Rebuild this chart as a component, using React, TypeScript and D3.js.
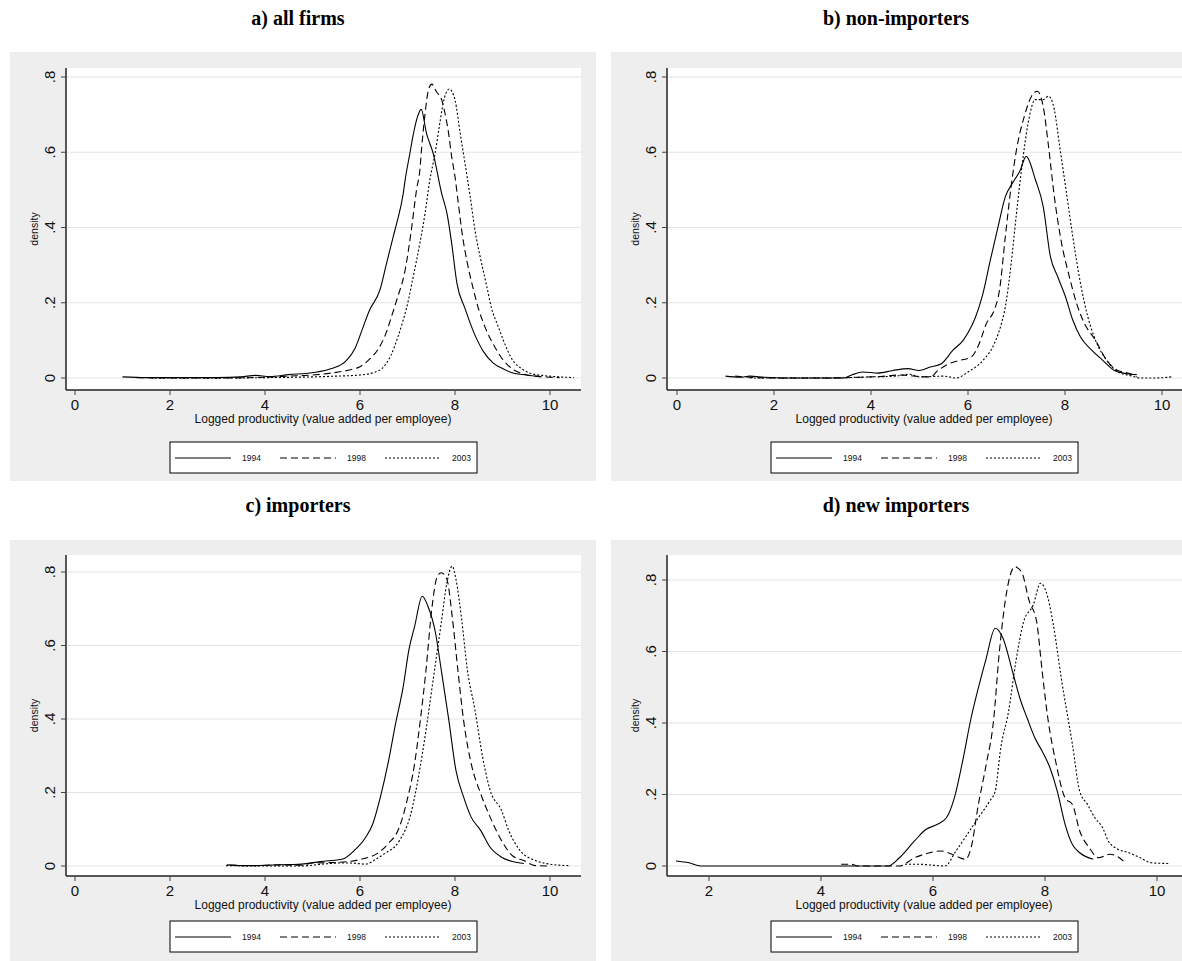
import React from 'react';
import * as d3 from 'd3';

type Pt = [number, number];

// a) all firms
const allFirms1994: Pt[] = [[1.0,0.003],[1.5,0.001],[2.0,0.001],[2.5,0.001],[3.0,0.001],[3.5,0.003],[3.8,0.007],[4.1,0.004],[4.5,0.009],[5.0,0.014],[5.4,0.025],[5.7,0.045],[5.9,0.08],[6.05,0.13],[6.2,0.18],[6.42,0.234],[6.55,0.3],[6.7,0.376],[6.77,0.41],[6.91,0.49],[6.95,0.526],[7.05,0.597],[7.12,0.646],[7.2,0.69],[7.29,0.714],[7.4,0.65],[7.54,0.597],[7.72,0.49],[7.83,0.438],[7.93,0.358],[8.04,0.252],[8.21,0.185],[8.4,0.12],[8.6,0.07],[8.8,0.04],[9.0,0.025],[9.2,0.014],[9.5,0.008],[9.8,0.003]];
const allFirms1998: Pt[] = [[1.3,0.001],[2.0,0.0],[3.0,0.0],[4.0,0.002],[4.5,0.005],[5.0,0.008],[5.5,0.015],[5.8,0.022],[6.0,0.03],[6.2,0.05],[6.4,0.08],[6.55,0.12],[6.68,0.17],[6.78,0.21],[6.95,0.287],[7.09,0.402],[7.19,0.5],[7.26,0.553],[7.3,0.615],[7.37,0.703],[7.44,0.765],[7.51,0.781],[7.61,0.761],[7.72,0.739],[7.79,0.703],[7.86,0.655],[7.93,0.588],[8.0,0.535],[8.07,0.464],[8.16,0.376],[8.26,0.305],[8.39,0.234],[8.49,0.186],[8.65,0.13],[8.85,0.08],[9.0,0.05],[9.2,0.025],[9.4,0.012],[9.7,0.005],[10.0,0.002],[10.2,0.001]];
const allFirms2003: Pt[] = [[1.6,0.0],[3.0,0.0],[4.0,0.001],[5.0,0.003],[5.5,0.005],[6.0,0.008],[6.3,0.015],[6.5,0.03],[6.65,0.06],[6.8,0.11],[6.9,0.15],[6.98,0.186],[7.12,0.269],[7.26,0.358],[7.37,0.438],[7.47,0.526],[7.58,0.597],[7.68,0.677],[7.75,0.73],[7.88,0.768],[8.0,0.739],[8.11,0.65],[8.21,0.571],[8.32,0.482],[8.42,0.393],[8.53,0.322],[8.67,0.243],[8.77,0.185],[8.9,0.14],[9.05,0.09],[9.2,0.05],[9.4,0.025],[9.6,0.012],[9.9,0.006],[10.2,0.003],[10.5,0.001]];

// b) non-importers
const nonImp1994: Pt[] = [[1.0,0.005],[1.3,0.002],[1.5,0.005],[1.8,0.002],[2.2,0.0],[3.0,0.0],[3.44,0.0],[3.6,0.008],[3.83,0.016],[4.14,0.013],[4.45,0.02],[4.76,0.025],[4.99,0.02],[5.22,0.029],[5.45,0.038],[5.69,0.074],[5.9,0.1],[6.0,0.12],[6.15,0.16],[6.3,0.22],[6.46,0.313],[6.62,0.402],[6.77,0.482],[6.92,0.518],[7.08,0.553],[7.2,0.589],[7.39,0.527],[7.55,0.456],[7.7,0.322],[7.85,0.269],[8.01,0.216],[8.16,0.154],[8.32,0.109],[8.55,0.074],[8.78,0.047],[9.02,0.02],[9.25,0.012],[9.48,0.009]];
const nonImp1998: Pt[] = [[1.2,0.005],[1.5,0.002],[2.0,0.0],[3.0,0.0],[3.8,0.002],[4.2,0.004],[4.6,0.008],[5.0,0.004],[5.22,0.003],[5.38,0.02],[5.61,0.038],[5.84,0.047],[6.07,0.056],[6.23,0.091],[6.38,0.145],[6.54,0.18],[6.65,0.234],[6.77,0.376],[6.89,0.51],[7.0,0.607],[7.16,0.695],[7.31,0.749],[7.43,0.762],[7.55,0.722],[7.66,0.616],[7.78,0.482],[7.93,0.358],[8.09,0.269],[8.24,0.198],[8.4,0.145],[8.63,0.1],[8.86,0.047],[9.09,0.02],[9.33,0.012],[9.48,0.003]];
const nonImp2003: Pt[] = [[1.5,0.0],[3.0,0.0],[4.0,0.003],[4.5,0.005],[4.8,0.01],[5.0,0.003],[5.5,0.005],[5.76,0.0],[6.0,0.016],[6.31,0.047],[6.54,0.091],[6.69,0.145],[6.77,0.189],[6.89,0.305],[7.0,0.438],[7.12,0.571],[7.24,0.678],[7.39,0.74],[7.55,0.74],[7.66,0.749],[7.78,0.713],[7.89,0.616],[8.01,0.51],[8.16,0.376],[8.32,0.251],[8.47,0.163],[8.63,0.1],[8.86,0.047],[9.09,0.016],[9.33,0.007],[9.56,0.0],[9.87,0.0],[10.2,0.003]];

// c) importers
const imp1994: Pt[] = [[3.2,0.003],[3.5,0.001],[4.0,0.002],[4.5,0.004],[4.77,0.005],[5.16,0.012],[5.64,0.019],[5.88,0.042],[6.12,0.078],[6.27,0.115],[6.43,0.188],[6.59,0.279],[6.75,0.388],[6.91,0.488],[7.03,0.589],[7.15,0.652],[7.31,0.734],[7.43,0.707],[7.59,0.634],[7.71,0.534],[7.87,0.397],[8.02,0.26],[8.18,0.188],[8.34,0.133],[8.54,0.097],[8.74,0.051],[8.98,0.024],[9.21,0.012],[9.45,0.007]];
const imp1998: Pt[] = [[3.26,0.002],[3.8,0.001],[4.3,0.003],[4.77,0.002],[5.0,0.008],[5.56,0.01],[6.04,0.019],[6.35,0.033],[6.59,0.06],[6.83,0.106],[6.99,0.178],[7.15,0.279],[7.27,0.397],[7.39,0.534],[7.51,0.698],[7.63,0.789],[7.71,0.798],[7.83,0.78],[7.94,0.68],[8.06,0.534],[8.18,0.397],[8.34,0.279],[8.54,0.197],[8.74,0.133],[8.98,0.069],[9.21,0.028],[9.45,0.015],[9.69,0.001],[10.0,0.0]];
const imp2003: Pt[] = [[3.18,0.001],[4.0,0.0],[4.77,0.0],[5.2,0.005],[5.56,0.008],[5.8,0.008],[6.12,0.005],[6.35,0.02],[6.51,0.033],[6.83,0.069],[7.07,0.142],[7.23,0.242],[7.39,0.37],[7.55,0.516],[7.71,0.661],[7.83,0.771],[7.94,0.816],[8.02,0.78],[8.14,0.671],[8.26,0.534],[8.42,0.425],[8.58,0.297],[8.74,0.206],[8.98,0.151],[9.13,0.097],[9.37,0.042],[9.69,0.015],[10.0,0.005],[10.4,0.001]];

// d) new importers
const newImp1994: Pt[] = [[1.41,0.014],[1.64,0.009],[1.85,0.0],[3.0,0.0],[4.0,0.0],[5.2,0.0],[5.4,0.023],[5.67,0.07],[5.87,0.102],[6.07,0.116],[6.24,0.135],[6.38,0.19],[6.54,0.302],[6.68,0.414],[6.81,0.498],[6.95,0.581],[7.11,0.665],[7.25,0.637],[7.42,0.544],[7.55,0.47],[7.68,0.414],[7.82,0.358],[7.95,0.321],[8.09,0.274],[8.22,0.209],[8.36,0.116],[8.49,0.06],[8.62,0.037],[8.86,0.019]];
const newImp1998: Pt[] = [[4.36,0.005],[4.53,0.005],[4.66,0.0],[5.4,0.0],[5.67,0.023],[5.94,0.037],[6.14,0.042],[6.34,0.033],[6.48,0.023],[6.58,0.019],[6.68,0.051],[6.81,0.172],[6.95,0.284],[7.08,0.405],[7.18,0.591],[7.28,0.73],[7.38,0.814],[7.46,0.837],[7.58,0.823],[7.72,0.74],[7.85,0.684],[7.95,0.544],[8.05,0.414],[8.19,0.293],[8.36,0.19],[8.49,0.172],[8.62,0.098],[8.79,0.051],[8.96,0.023],[9.16,0.033],[9.36,0.019],[9.43,0.009]];
const newImp2003: Pt[] = [[5.5,0.005],[5.74,0.005],[5.94,0.003],[6.21,0.0],[6.41,0.042],[6.61,0.088],[6.81,0.135],[7.01,0.181],[7.11,0.209],[7.21,0.33],[7.35,0.433],[7.48,0.572],[7.62,0.684],[7.79,0.73],[7.92,0.791],[8.02,0.767],[8.15,0.674],[8.29,0.526],[8.49,0.34],[8.62,0.209],[8.76,0.172],[8.89,0.135],[9.03,0.107],[9.13,0.07],[9.3,0.047],[9.5,0.037],[9.7,0.023],[9.9,0.009],[10.2,0.007]];

const xTicksAll = [0, 2, 4, 6, 8, 10];
const xTicksNew = [2, 4, 6, 8, 10];
const yTicks = [0, 0.2, 0.4, 0.6, 0.8];
const years = ['1994', '1998', '2003'];
const dashes = ['none', '7,4', '2,2'];

const panels = [
  { title: 'a) all firms', series: [allFirms1994, allFirms1998, allFirms2003], xTicks: xTicksAll,
    gx: 10, gy: 52, gw: 586, gh: 429, px0: 66, px1: 581, py0: 68, py1: 390, legY: 442,
    xd: [0, 10], xr: [75, 550], yr: [378, 77], titleX: 298, titleY: 25 },
  { title: 'b) non-importers', series: [nonImp1994, nonImp1998, nonImp2003], xTicks: xTicksAll,
    gx: 611, gy: 52, gw: 571, gh: 429, px0: 667, px1: 1182, py0: 68, py1: 390, legY: 442,
    xd: [0, 10], xr: [677, 1162], yr: [378, 77], titleX: 896, titleY: 25 },
  { title: 'c) importers', series: [imp1994, imp1998, imp2003], xTicks: xTicksAll,
    gx: 10, gy: 540, gw: 586, gh: 421, px0: 66, px1: 581, py0: 555, py1: 876, legY: 921,
    xd: [0, 10], xr: [75, 550], yr: [866, 572], titleX: 298, titleY: 512 },
  { title: 'd) new importers', series: [newImp1994, newImp1998, newImp2003], xTicks: xTicksNew,
    gx: 611, gy: 540, gw: 571, gh: 421, px0: 667, px1: 1182, py0: 555, py1: 876, legY: 921,
    xd: [2, 10], xr: [709, 1157], yr: [866, 580], titleX: 896, titleY: 512 },
];

const sans = 'Liberation Sans, Arial, sans-serif';

function Panel({ p }: { p: typeof panels[number] }) {
  const x = d3.scaleLinear().domain(p.xd).range(p.xr);
  const y = d3.scaleLinear().domain([0, 0.8]).range(p.yr);
  const line = d3.line<Pt>().x(d => x(d[0])).y(d => y(d[1])).curve(d3.curveMonotoneX);
  const midX = (p.px0 + (p.px1 - 1)) / 2;
  const midY = (p.py0 + p.py1) / 2;
  const lx = p.gx + 160;
  const ly = p.legY;
  const fmt = (v: number) => (v === 0 ? '0' : d3.format('.1f')(v).replace(/^0/, ''));

  return (
    <g>
      <text x={p.titleX} y={p.titleY} textAnchor="middle" fontFamily="Liberation Serif, Times New Roman, serif"
        fontWeight="bold" fontSize={20}>{p.title}</text>
      <rect x={p.gx} y={p.gy} width={p.gw} height={p.gh} fill="#eeeeee" />
      <rect x={p.px0} y={p.py0} width={p.px1 - p.px0} height={p.py1 - p.py0} fill="#ffffff" />
      {yTicks.map(t => (
        <line key={'g' + t} x1={p.px0} x2={p.px1} y1={y(t)} y2={y(t)} stroke="#e4e4e4" strokeWidth={1.2} />
      ))}
      {p.series.map((s, i) => (
        <path key={i} d={line(s) || ''} fill="none" stroke="#000" strokeWidth={1.1}
          strokeDasharray={dashes[i]} />
      ))}
      <line x1={p.px0} x2={p.px0} y1={p.py0} y2={p.py1} stroke="#222" strokeWidth={1.5} />
      <line x1={p.px0} x2={p.px1} y1={p.py1} y2={p.py1} stroke="#222" strokeWidth={1.5} />
      {yTicks.map(t => (
        <g key={'y' + t}>
          <line x1={p.px0 - 5} x2={p.px0} y1={y(t)} y2={y(t)} stroke="#444" />
          <text transform={`translate(${p.px0 - 11},${y(t)}) rotate(-90)`} textAnchor="middle"
            fontFamily={sans} fontSize={15} fill="#111">{fmt(t)}</text>
        </g>
      ))}
      <text transform={`translate(${p.px0 - 28},${midY}) rotate(-90)`} textAnchor="middle"
        fontFamily={sans} fontSize={10.5} fill="#111">density</text>
      {p.xTicks.map(t => (
        <g key={'x' + t}>
          <line x1={x(t)} x2={x(t)} y1={p.py1} y2={p.py1 + 5} stroke="#444" />
          <text x={x(t)} y={p.py1 + 20} textAnchor="middle" fontFamily={sans} fontSize={15} fill="#111">{t}</text>
        </g>
      ))}
      <text x={midX} y={p.py1 + 33} textAnchor="middle" fontFamily={sans} fontSize={12} fill="#111">
        Logged productivity (value added per employee)
      </text>
      <rect x={lx} y={ly} width={307} height={31} fill="#fff" stroke="#000" strokeWidth={1} />
      {years.map((yr, i) => (
        <g key={yr}>
          <line x1={lx + 5 + i * 105} x2={lx + 61 + i * 105} y1={ly + 16} y2={ly + 16} stroke="#000"
            strokeDasharray={dashes[i]} />
          <text x={lx + 72 + i * 105} y={ly + 19} fontFamily={sans} fontSize={8.5} fill="#111">{yr}</text>
        </g>
      ))}
    </g>
  );
}

export default function App() {
  return (
    <svg width={1182} height={961} style={{ position: 'absolute', left: 0, top: 0, background: '#fff' }}>
      {panels.map(p => <Panel key={p.title} p={p} />)}
    </svg>
  );
}
